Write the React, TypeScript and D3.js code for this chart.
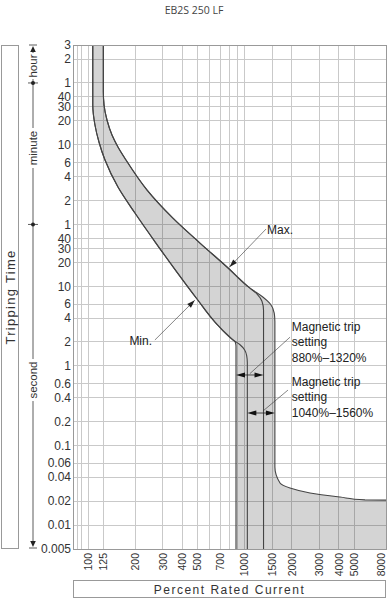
import React from 'react';
import * as d3 from 'd3';

const W = 389;
const H = 600;
const left = 73;
const right = 386;
const top = 45;
const bottom = 549;

// x axis: percent of rated current (log)
const xTicks = [100, 125, 200, 300, 400, 500, 700, 1000, 1500, 2000, 3000, 4000, 5000, 8000];
const xGrid = [85, 90, 100, 125, 200, 300, 400, 500, 600, 700, 800, 900, 1000, 1500, 2000, 3000, 4000, 5000, 8000];

// y axis: tripping time in seconds (log), labels in h / min / s
const yTicks = [10800, 7200, 3600, 2400, 1800, 1200, 600, 360, 240, 120, 60, 40, 30, 20, 10, 6, 4, 2, 1, 0.6, 0.4, 0.2, 0.1, 0.06, 0.04, 0.02, 0.01, 0.005];
const yLabels = ['3', '2', '1', '40', '30', '20', '10', '6', '4', '2', '1', '40', '30', '20', '10', '6', '4', '2', '1', '0.6', '0.4', '0.2', '0.1', '0.06', '0.04', '0.02', '0.01', '0.005'];

// unit ruler on the left
const unitLabels = [
  { text: 'hour', t: 5875, half: 13 },
  { text: 'minute', t: 548, half: 20 },
  { text: 'second', t: 0.665, half: 21 },
];
const unitDots = [3600, 60];

// tripping curves [percent, seconds]
const maxThermal = [[125, 10800], [125, 2770], [126.3, 1901], [131.9, 1232], [142, 798], [155, 564], [174.5, 387], [238, 162], [348, 72], [518, 35], [771, 17.5], [1081, 9.5]];
const max1320 = [[1200, 8.0], [1290, 6.5], [1320, 5.0], [1320, 0.005]];
const max1560 = [[1300, 7.4], [1460, 6.0], [1545, 4.6], [1560, 3.6], [1560, 0.0536], [1682, 0.0338], [1948, 0.0292], [2616, 0.0253], [4066, 0.0225], [5872, 0.0207], [8000, 0.0206]];
const minThermal = [[107, 10800], [107, 1900], [110.5, 1066], [117.2, 652], [128.1, 387], [155, 177], [199, 83.5], [271, 35], [369, 15.1], [496, 6.93], [646, 3.56], [842, 2.12]];
const min880 = [[870, 2.0], [880, 1.78], [880, 0.005]];
const min1040 = [[930, 1.86], [1000, 1.585], [1030, 1.35], [1040, 1.1], [1040, 0.005]];

// annotations
const maxLabel = { text: 'Max.', at: [1389, 45.5] };
const maxLeader = [[1369, 52.5], [800, 17.5]];
const minLabel = { text: 'Min.', at: [256, 1.85] };
const minLeader = [[267, 2.12], [480, 6.7]];
const magBlocks = [
  { lines: ['Magnetic trip', 'setting', '880%–1320%'], at: [2000, 2.75], from: 880, to: 1320, t: 0.769, leader: [[1080, 0.8], [1950, 2.3]] },
  { lines: ['Magnetic trip', 'setting', '1040%–1560%'], at: [2000, 0.559], from: 1040, to: 1560, t: 0.256, leader: [[1309, 0.271], [1891, 0.497]] },
];

const sans = "'Liberation Sans', Arial, sans-serif";
const narrow = "'Liberation Sans Narrow', 'Arial Narrow', 'Liberation Sans', sans-serif";

function head(tip: number[], from: number[], len = 8, half = 2.6) {
  const dx = tip[0] - from[0];
  const dy = tip[1] - from[1];
  const L = Math.hypot(dx, dy);
  const ux = dx / L, uy = dy / L;
  const bx = tip[0] - ux * len, by = tip[1] - uy * len;
  return `${tip[0]},${tip[1]} ${bx - uy * half},${by + ux * half} ${bx + uy * half},${by - ux * half}`;
}

export default function App() {
  const x = d3.scaleLog().domain([80, 8000]).range([left, right]);
  const y = d3.scaleLog().domain([0.005, 10800]).range([bottom, top]);
  const line = d3.line<number[]>().x(d => x(d[0])).y(d => y(d[1])).curve(d3.curveMonotoneY);
  const px = (d: number[]) => [x(d[0]), y(d[1])];

  const curves = [
    maxThermal.concat(max1320),
    maxThermal.concat(max1560),
    minThermal.concat(min880),
    minThermal.concat(min1040),
  ];
  const leftEdge = minThermal.concat(min880);
  const rightEdge = maxThermal.concat(max1560, [[8000, 0.005]]);
  const fillD = line(leftEdge) + (line(rightEdge.slice().reverse()) || '').replace(/^M/, 'L') + 'Z';

  const rulerX = 33;
  // pieces of the ruler line between labels
  const stops = [y(10800) + 7];
  unitLabels.forEach(u => { stops.push(y(u.t) - u.half); stops.push(y(u.t) + u.half); });
  stops.push(y(0.005) - 7);
  const segs: number[][] = [];
  for (let i = 0; i < stops.length; i += 2) segs.push([stops[i], stops[i + 1]]);

  return (
    <svg width={W} height={H} style={{ position: 'absolute', left: 0, top: 0, display: 'block', background: '#fff' }}>
      <text x={194} y={13.5} textAnchor="middle" fontFamily="'Open Sans', sans-serif" fontSize={10.5} fill="#444">EB2S 250 LF</text>

      {/* grid */}
      <g shapeRendering="crispEdges" stroke="#c9c9c9" strokeWidth={1}>
        {xGrid.map(v => <line key={'gx' + v} x1={x(v)} x2={x(v)} y1={top} y2={bottom} />)}
        {yTicks.map((v, i) => <line key={'gy' + i} x1={left} x2={right} y1={y(v)} y2={y(v)} />)}
      </g>

      {/* tripping band */}
      <path d={fillD} fill="#000" fillOpacity={0.17} stroke="none" />
      {curves.map((c, i) => (
        <path key={'c' + i} d={line(c) || ''} fill="none" stroke="#444" strokeWidth={1.1} />
      ))}

      <rect x={left} y={top} width={right - left} height={bottom - top} fill="none" stroke="#999" strokeWidth={1} shapeRendering="crispEdges" />

      {/* y labels */}
      {yTicks.map((v, i) => (
        <text key={'yl' + i} x={left - 2} y={y(v)} dy="0.36em" textAnchor="end" fontFamily={narrow} fontSize={12} fill="#333">{yLabels[i]}</text>
      ))}
      {/* x labels */}
      {xTicks.map(v => (
        <text key={'xl' + v} transform={`translate(${Math.min(x(v), right - 4.5)},${bottom + 4}) rotate(-90)`} dy="0.36em" textAnchor="end" fontFamily={narrow} fontSize={10.5} fill="#333">{v}</text>
      ))}

      {/* axis titles */}
      <rect x={1.5} y={top + 0.5} width={17} height={bottom - top - 1} fill="none" stroke="#999" />
      <text transform={`translate(15,${(top + bottom) / 2}) rotate(-90)`} textAnchor="middle" fontFamily={sans} fontSize={13} letterSpacing={1.3} fill="#333">Tripping Time</text>
      <rect x={left + 0.5} y={580.5} width={right - left - 1} height={17} fill="none" stroke="#999" />
      <text x={(left + right) / 2} y={593.5} textAnchor="middle" fontFamily={sans} fontSize={12} letterSpacing={1.5} fill="#333">Percent Rated Current</text>

      {/* unit ruler */}
      <g stroke="#333" strokeWidth={0.8} fill="#222">
        {segs.map((s, i) => <line key={'rs' + i} x1={rulerX} x2={rulerX} y1={s[0]} y2={s[1]} />)}
        <line x1={rulerX - 4} x2={rulerX + 4} y1={y(10800)} y2={y(10800)} />
        <polygon points={head([rulerX, y(10800) + 1], [rulerX, y(10800) + 10], 6, 2.8)} stroke="none" />
        <line x1={rulerX - 4} x2={rulerX + 4} y1={y(0.005) - 1} y2={y(0.005) - 1} />
        <polygon points={head([rulerX, y(0.005) - 2], [rulerX, y(0.005) - 12], 6, 2.8)} stroke="none" />
        {unitDots.map(t => (
          <g key={'d' + t}>
            <line x1={rulerX - 5} x2={rulerX + 5} y1={y(t)} y2={y(t)} />
            <circle cx={rulerX} cy={y(t)} r={2} stroke="none" />
          </g>
        ))}
      </g>
      {unitLabels.map(u => (
        <text key={u.text} transform={`translate(${rulerX},${y(u.t)}) rotate(-90)`} dy="0.36em" textAnchor="middle" fontFamily={sans} fontSize={11.5} fill="#333">{u.text}</text>
      ))}

      {/* Max / Min annotations */}
      <g stroke="#333" strokeWidth={0.6}>
        <line x1={px(maxLeader[0])[0]} y1={px(maxLeader[0])[1]} x2={px(maxLeader[1])[0]} y2={px(maxLeader[1])[1]} />
        <line x1={px(minLeader[0])[0]} y1={px(minLeader[0])[1]} x2={px(minLeader[1])[0]} y2={px(minLeader[1])[1]} />
        {magBlocks.map((b, i) => (
          <line key={'ml' + i} x1={px(b.leader[0])[0]} y1={px(b.leader[0])[1]} x2={px(b.leader[1])[0]} y2={px(b.leader[1])[1]} />
        ))}
      </g>
      <polygon points={head(px(maxLeader[1]), px(maxLeader[0]))} fill="#222" />
      <polygon points={head(px(minLeader[1]), px(minLeader[0]))} fill="#222" />
      <text x={x(maxLabel.at[0])} y={y(maxLabel.at[1])} fontFamily={sans} fontSize={12} fill="#222">{maxLabel.text}</text>
      <text x={x(minLabel.at[0])} y={y(minLabel.at[1])} textAnchor="end" fontFamily={sans} fontSize={12} fill="#222">{minLabel.text}</text>

      {/* magnetic trip settings */}
      {magBlocks.map((b, i) => {
        const yy = y(b.t);
        const x0 = x(b.from), x1 = x(b.to);
        return (
          <g key={'mb' + i}>
            <line x1={x0 + 4} x2={x1 - 4} y1={yy} y2={yy} stroke="#222" strokeWidth={0.8} />
            <polygon points={head([x0, yy], [x0 + 10, yy], 9, 2.6)} fill="#111" />
            <polygon points={head([x1, yy], [x1 - 10, yy], 9, 2.6)} fill="#111" />
            <text x={x(b.at[0])} y={y(b.at[1])} fontFamily={sans} fontSize={12} fill="#222">
              {b.lines.map((l, j) => (
                <tspan key={j} x={x(b.at[0])} dy={j === 0 ? 0 : 15.3}>{l}</tspan>
              ))}
            </text>
          </g>
        );
      })}
    </svg>
  );
}
